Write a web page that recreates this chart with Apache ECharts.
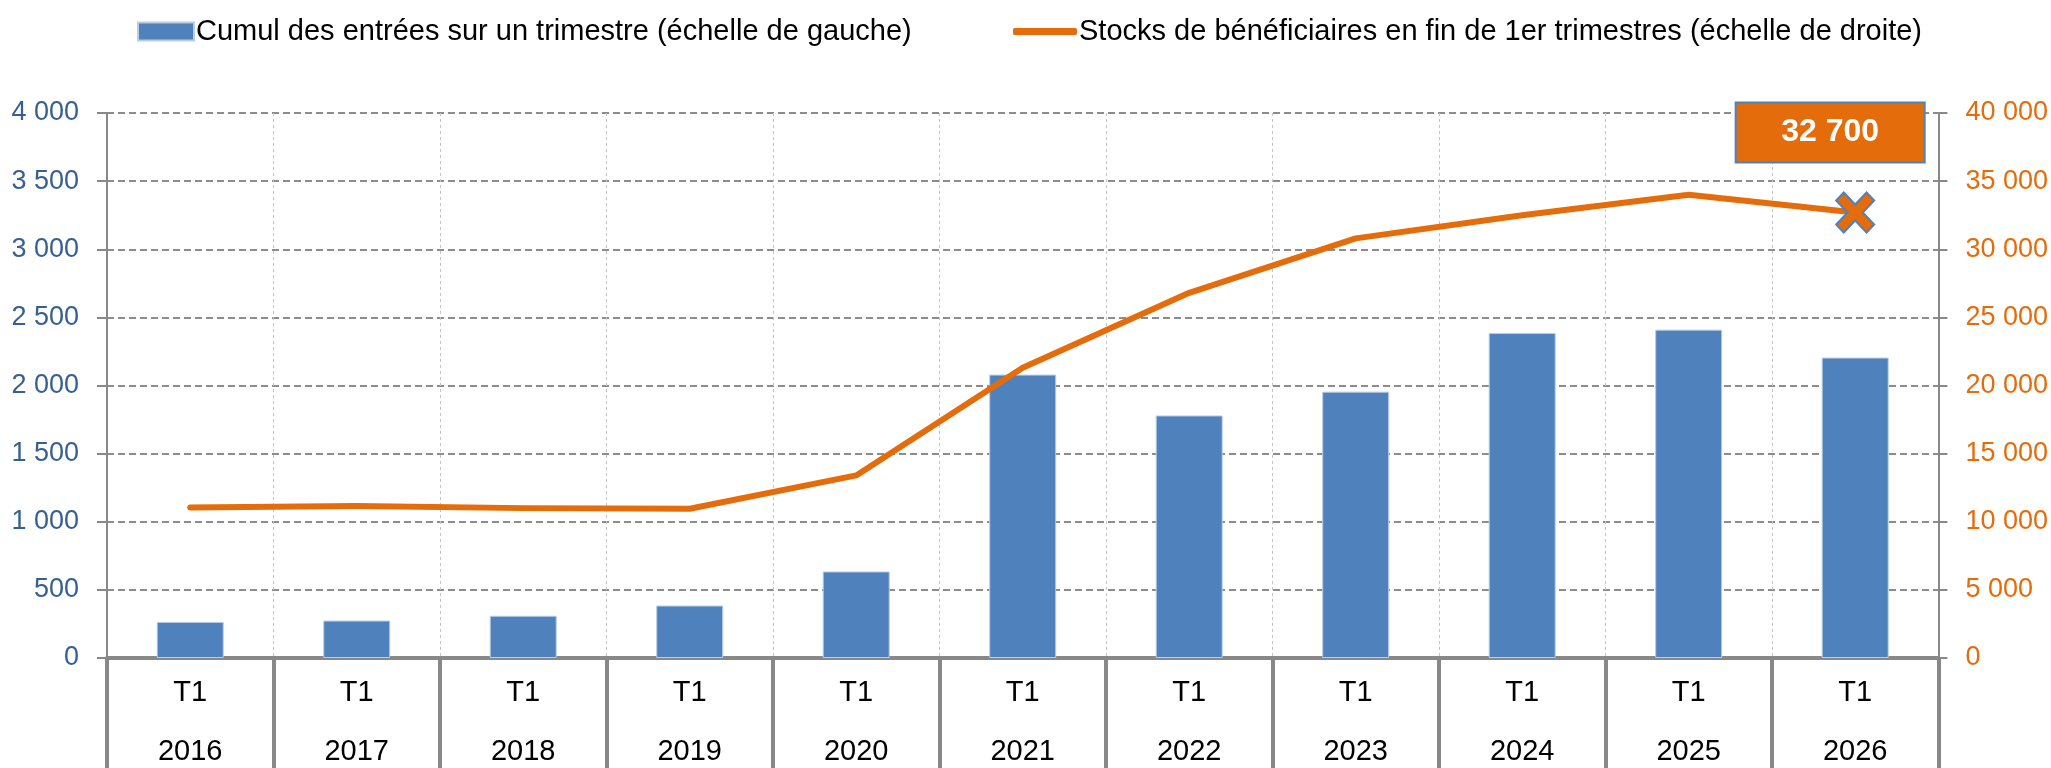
<!DOCTYPE html>
<html>
<head>
<meta charset="utf-8">
<script src="https://cdn.jsdelivr.net/npm/echarts@6/dist/echarts.min.js"></script>
<style>html,body{margin:0;padding:0;background:#fff}#c{width:2051px;height:768px}</style>
</head>
<body>
<div id="c"></div>
<script>
const years = ['2016','2017','2018','2019','2020','2021','2022','2023','2024','2025','2026'];
const quarter = 'T1';
const entrees = [265, 275, 310, 385, 635, 2080, 1780, 1955, 2385, 2410, 2205];
const stocks = [11050, 11150, 11000, 10950, 13400, 21300, 26800, 30800, 32500, 34000, 32700];
const leftTicks = {min: 0, max: 4000, interval: 500};
const rightTicks = {min: 0, max: 40000, interval: 5000};
const nameBars = 'Cumul des entrées sur un trimestre (échelle de gauche)';
const nameLine = 'Stocks de bénéficiaires en fin de 1er trimestres (échelle de droite)';

const FONT = 'Liberation Sans';
const fmt = v => String(v).replace(/\B(?=(\d{3})+(?!\d))/g, ' ');
const crossPath = 'path://M2,0 L5,3 L8,0 L10,2 L7,5 L10,8 L8,10 L5,7 L2,10 L0,8 L3,5 L0,2 Z';

const lineData = stocks.map((v, i) => {
  if (i === stocks.length - 1) {
    return {
      value: v,
      symbol: crossPath,
      symbolSize: [38, 40],
      itemStyle: {color: '#E46C0A', borderColor: '#4F81BD', borderWidth: 2},
      label: {
        show: true,
        position: 'inside',
        offset: [-25, -80],
        formatter: p => fmt(p.value),
        color: '#fff',
        fontWeight: 'bold',
        fontSize: 32,
        fontFamily: FONT,
        backgroundColor: '#E46C0A',
        borderColor: '#4F81BD',
        borderWidth: 2,
        width: 187,
        height: 58,
        lineHeight: 58,
        align: 'center',
        verticalAlign: 'middle'
      }
    };
  }
  return {value: v, symbol: 'none'};
});

const chart = echarts.init(document.getElementById('c'));
chart.setOption({
  animation: false,
  textStyle: {fontFamily: FONT},
  legend: [
    {
      left: 132, top: 12,
      data: [{name: nameBars, icon: 'rect'}],
      itemWidth: 56, itemHeight: 18, itemGap: 0,
      textStyle: {fontSize: 29, color: '#000', fontFamily: FONT, padding: [0,0,0,-3]}
    },
    {
      left: 1008, top: 12,
      data: [{name: nameLine, icon: 'roundRect'}],
      itemWidth: 64, itemHeight: 7,
      textStyle: {fontSize: 29, color: '#000', fontFamily: FONT, padding: [0,0,0,-3]}
    }
  ],
  grid: {left: 107, right: 111, top: 113, bottom: 110, containLabel: false},
  xAxis: {
    type: 'category',
    data: years,
    boundaryGap: true,
    axisLine: {show: true, lineStyle: {color: '#888', width: 4}},
    axisTick: {show: true, interval: 0, length: 112, lineStyle: {color: '#888', width: 4}},
    axisLabel: {
      interval: 0,
      margin: 5,
      formatter: v => '{a|' + quarter + '}\n{b|' + v + '}',
      rich: {
        a: {fontSize: 29, lineHeight: 59, color: '#000', fontFamily: FONT},
        b: {fontSize: 29, lineHeight: 59, color: '#000', fontFamily: FONT}
      }
    },
    splitLine: {show: true, interval: 0, lineStyle: {color: '#c4c4c4', width: 1, type: [3, 3]}}
  },
  yAxis: [
    {
      type: 'value',
      min: leftTicks.min, max: leftTicks.max, interval: leftTicks.interval,
      axisLine: {show: true, lineStyle: {color: '#888', width: 2}},
      axisTick: {show: true, length: 10, lineStyle: {color: '#888', width: 2}},
      axisLabel: {formatter: fmt, color: '#366092', fontSize: 27, margin: 28, fontFamily: FONT},
      splitLine: {show: true, lineStyle: {color: '#8c8c8c', width: 2, type: [7, 4]}}
    },
    {
      type: 'value',
      min: rightTicks.min, max: rightTicks.max, interval: rightTicks.interval,
      axisLine: {show: true, lineStyle: {color: '#888', width: 2}},
      axisTick: {show: true, length: 9, lineStyle: {color: '#888', width: 2}},
      axisLabel: {formatter: fmt, color: '#E46C0A', fontSize: 27, margin: 27, fontFamily: FONT},
      splitLine: {show: false}
    }
  ],
  series: [
    {
      name: nameBars,
      type: 'bar',
      yAxisIndex: 0,
      data: entrees,
      barWidth: 67,
      itemStyle: {color: '#4F81BD', borderColor: '#B9CDE5', borderWidth: 1},
      z: 2
    },
    {
      name: nameLine,
      type: 'line',
      yAxisIndex: 1,
      data: lineData,
      showSymbol: true,
      lineStyle: {color: '#E46C0A', width: 6, cap: 'round', join: 'round'},
      itemStyle: {color: '#E46C0A'},
      z: 3
    }
  ]
});
</script>
</body>
</html>
